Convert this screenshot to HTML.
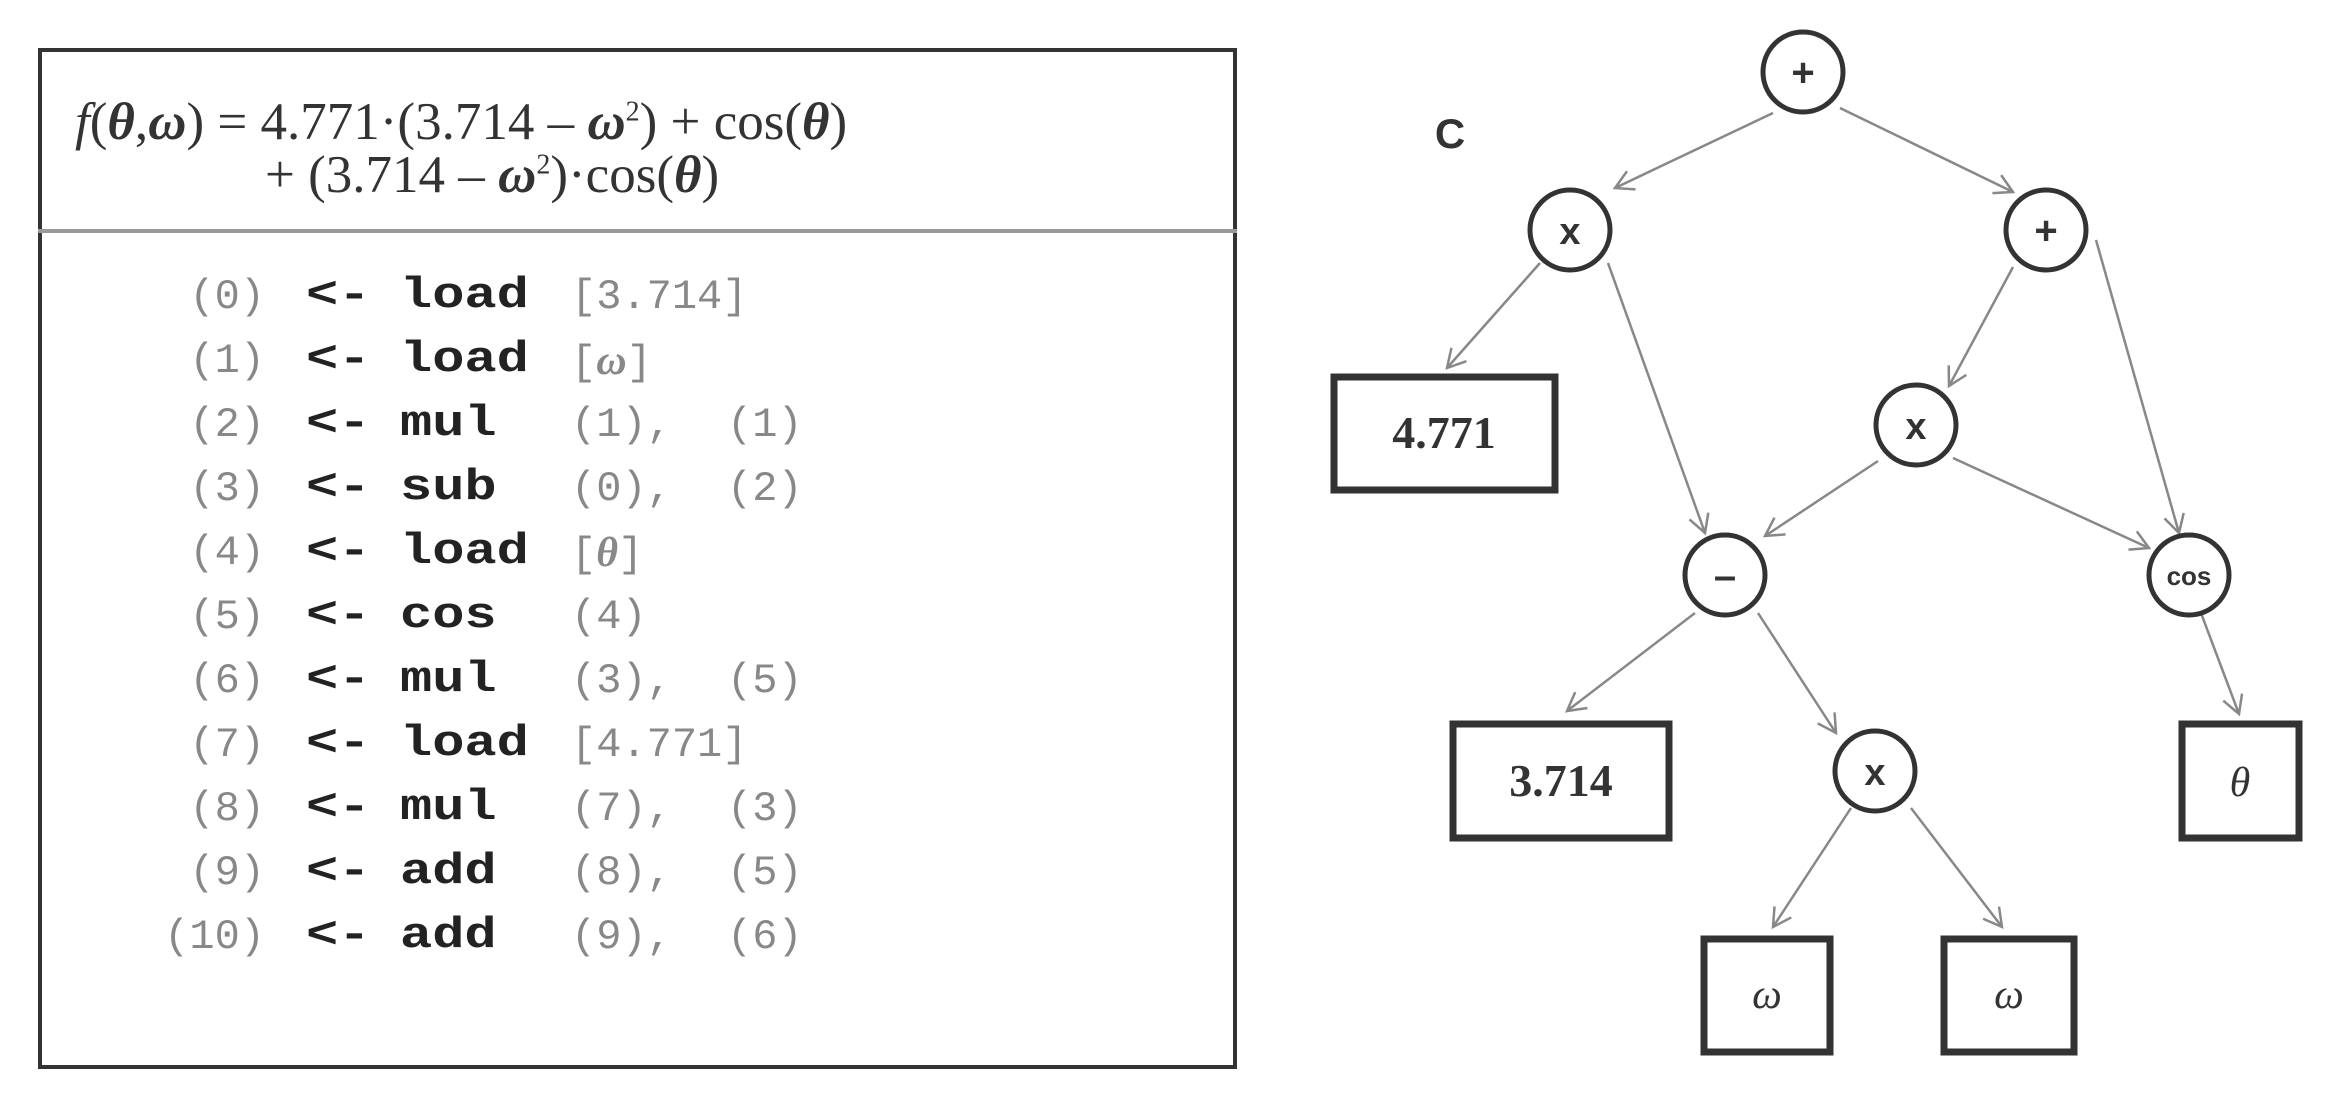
<!DOCTYPE html>
<html><head><meta charset="utf-8"><style>
html,body{margin:0;padding:0;background:#fff;}
body{width:2338px;height:1098px;position:relative;overflow:hidden;}
.box{position:absolute;left:38px;top:48px;width:1191px;height:1013px;border:4px solid #333;}
.div{position:absolute;left:38px;top:229px;width:1199px;height:4px;background:#999;}
.f{position:absolute;font-family:"Liberation Serif",serif;font-size:53px;color:#333;white-space:nowrap;line-height:1;}
.c{position:absolute;font-family:"Liberation Mono",monospace;font-size:42px;white-space:nowrap;line-height:1;}
.g{color:#888;}
.b{color:#222;font-weight:bold;font-size:44px;transform:scaleX(1.22);transform-origin:left center;margin-top:-2px;}
</style></head><body>
<div class="box"></div>
<div class="div"></div>
<div class="f" style="left:75px;top:96px;"><i>f</i>(<b><i>θ</i></b>,<b><i>ω</i></b>) = 4.771·(3.714 – <b><i>ω</i></b><sup style="font-size:28px">2</sup>) + cos(<b><i>θ</i></b>)</div>
<div class="f" style="left:265px;top:149px;">+ (3.714 – <b><i>ω</i></b><sup style="font-size:28px">2</sup>)·cos(<b><i>θ</i></b>)</div>
<div id="code"></div>
<script>
var rows=[["(0)","load","[3.714]",""],["(1)","load","[<i style='font-family:Liberation Serif'><b>ω</b></i>]",""],["(2)","mul","(1),","(1)"],["(3)","sub","(0),","(2)"],["(4)","load","[<i style='font-family:Liberation Serif'><b>θ</b></i>]",""],["(5)","cos","(4)",""],["(6)","mul","(3),","(5)"],["(7)","load","[4.771]",""],["(8)","mul","(7),","(3)"],["(9)","add","(8),","(5)"],["(10)","add","(9),","(6)"]];
var h="";
rows.forEach(function(r,i){var y=297+i*64-21;
h+='<div class="c g" style="right:'+(2338-265)+'px;top:'+y+'px">'+r[0]+'</div>';
h+='<div class="c b" style="left:306px;top:'+y+'px">&lt;-</div>';
h+='<div class="c b" style="left:400px;top:'+y+'px">'+r[1]+'</div>';
h+='<div class="c g" style="left:571px;top:'+y+'px">'+r[2]+'</div>';
if(r[3])h+='<div class="c g" style="left:727px;top:'+y+'px">'+r[3]+'</div>';});
document.getElementById("code").innerHTML=h;
</script>
<svg width="2338" height="1098" style="position:absolute;left:0;top:0">
<defs><marker id="a" markerWidth="24" markerHeight="24" refX="20" refY="12" orient="auto" markerUnits="userSpaceOnUse"><polyline points="2,2 20,12 2,22" fill="none" stroke="#888" stroke-width="2.5"/></marker></defs>
<g stroke="#888" stroke-width="2.5" fill="none" marker-end="url(#a)">
<line x1="1773" y1="113" x2="1615" y2="188"/>
<line x1="1840" y1="108" x2="2013" y2="192"/>
<line x1="1540" y1="263" x2="1447" y2="368"/>
<line x1="1608" y1="263" x2="1705" y2="533"/>
<line x1="2013" y1="267" x2="1949" y2="386"/>
<line x1="2096" y1="240" x2="2179" y2="533"/>
<line x1="1878" y1="461" x2="1765" y2="536"/>
<line x1="1953" y1="458" x2="2149" y2="548"/>
<line x1="1695" y1="613" x2="1567" y2="711"/>
<line x1="1758" y1="613" x2="1836" y2="733"/>
<line x1="2201" y1="613" x2="2239" y2="714"/>
<line x1="1851" y1="808" x2="1773" y2="927"/>
<line x1="1911" y1="808" x2="2002" y2="927"/>
</g>
<g stroke="#333" stroke-width="5" fill="#fff">
<circle cx="1803" cy="72" r="40"/><circle cx="1570" cy="230" r="40"/><circle cx="2046" cy="230" r="40"/>
<circle cx="1916" cy="425" r="40"/><circle cx="1725" cy="575" r="40"/><circle cx="2189" cy="575" r="40"/>
<circle cx="1875" cy="771" r="40"/>
</g>
<g stroke="#333" stroke-width="7" fill="#fff">
<rect x="1334" y="377" width="221" height="113"/>
<rect x="1453" y="724" width="216" height="114"/>
<rect x="2182" y="724" width="117" height="114"/>
<rect x="1704" y="939" width="126" height="113"/>
<rect x="1944" y="939" width="130" height="113"/>
</g>
<g font-family="Liberation Sans,sans-serif" font-weight="bold" fill="#333" text-anchor="middle">
<text x="1803" y="86" font-size="40">+</text>
<text x="1570" y="244" font-size="38">x</text>
<text x="2046" y="244" font-size="40">+</text>
<text x="1916" y="439" font-size="38">x</text>
<text x="1725" y="589" font-size="40">–</text>
<text x="2189" y="585" font-size="26">cos</text>
<text x="1875" y="785" font-size="38">x</text>
<text x="1450" y="148" font-size="42">C</text>
</g>
<g font-family="Liberation Serif,serif" fill="#333" text-anchor="middle">
<text x="1444" y="448" font-size="46" font-weight="bold">4.771</text>
<text x="1561" y="796" font-size="46" font-weight="bold">3.714</text>
<text x="2240" y="796" font-size="42" font-style="italic">θ</text>
<text x="1767" y="1008" font-size="42" font-style="italic">ω</text>
<text x="2009" y="1008" font-size="42" font-style="italic">ω</text>
</g>
</svg>
</body></html>
